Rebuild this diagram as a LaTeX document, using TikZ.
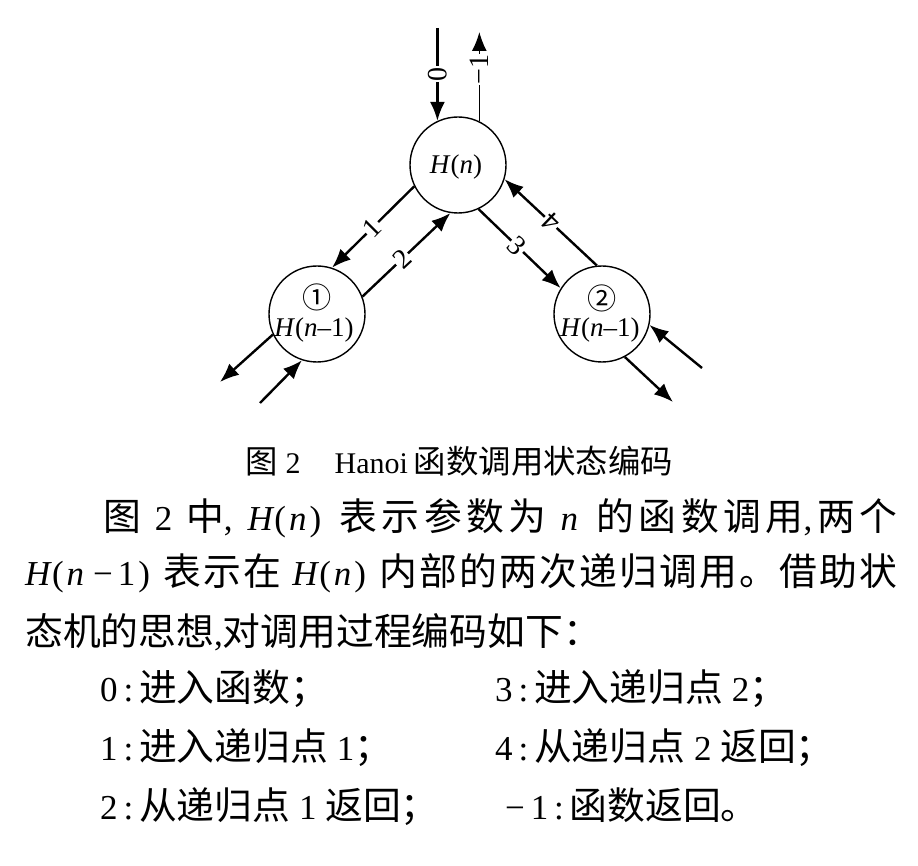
\documentclass[tikz,border=0pt]{standalone}
\usepackage{fontspec}
\setmainfont{Liberation Serif}
\newfontfamily\cjk[Scale=1.08]{Noto Sans CJK SC}
\usetikzlibrary{arrows.meta}
\newcommand\zh[1]{{\cjk #1}}
% CJK run with a little stretchable glue before every character
\makeatletter
\def\zs@aux#1{\ifx#1\relax\else\hskip0pt plus 4pt #1\expandafter\zs@aux\fi}
\newcommand\zs[1]{{\cjk\zs@aux#1\relax}}
\makeatother
\newcommand\Hn{\textit{H}(\hspace{3pt}\textit{n}\hspace{3pt})}
\begin{document}
\begin{tikzpicture}[x=1pt,y=-1pt,
  call/.style={circle,draw,line width=1.4pt,minimum size=96pt,inner sep=0pt},
  arr/.style={line width=2.4pt,-{Latex[length=19pt,width=15pt]}},
  num/.style={fill=white,inner sep=1pt,font=\fontsize{28}{28}\selectfont},
  intext/.style={inner sep=0pt,font=\fontsize{27}{27}\selectfont},
  capt/.style={anchor=base west,inner sep=0pt,font=\fontsize{30}{36}\selectfont},
  body/.style={anchor=base west,inner sep=0pt,font=\fontsize{35}{40}\selectfont},
]
\useasboundingbox (0,0) rectangle (918,866);

% the three calls
\node[call] (H) at (458,165) {};
\node[call] (L) at (317,314) {};
\node[call] (R) at (602,314) {};

\node[intext] (Ht) at (456,167) {\textit{H}(\textit{n})};
\node[intext] (Lm) at (317,297) {\zh{①}};
\node[intext] (Lt) at (314,330) {\textit{H}(\textit{n}–1)};
\node[intext] (Rm) at (602,298) {\zh{②}};
\node[intext] (Rt) at (600,330) {\textit{H}(\textit{n}–1)};

% free ends of the outer connectors
\coordinate (in0) at (437,28);
\coordinate (out1) at (480,32);
\coordinate (Lout) at (220,382);
\coordinate (Lin) at (260,403);
\coordinate (Rin) at (702,368);
\coordinate (Rout) at (673,402);

% entry and return of H(n)
\draw[arr] (H.115 |- in0) -- node[num,rotate=-90,pos=0.5]{0} (H.115);
\draw[arr,line width=1.6pt] (H.64) -- node[num,rotate=90,pos=0.58]{−1} (H.64 |- out1);

% recursion point 1
\draw[arr] (H.206.6) -- node[num,rotate=45,pos=0.51]{1} (L.72);
\draw[arr] (L.21.6) -- node[num,rotate=43,pos=0.45]{2} (H.261);

% recursion point 2
\draw[arr] (H.295) -- node[num,rotate=-44,pos=0.47]{3} (R.148);
\draw[arr] (R.96) -- node[num,rotate=136,pos=0.5]{4} (H.343);

% connectors of the inner calls
\draw[arr] (L.205) -- (Lout);
\draw[arr] (Lin) -- (L.252);
\draw[arr] (Rin) -- (R.347);
\draw[arr] (R.298) -- (Rout);

% caption
\node[capt] (cap) at (245,473) {\zh{图}\hspace{8pt}2\hspace{34pt}Hanoi\hspace{6pt}\zh{函数调用状态编码}};

% body text
\node[body] (p1) at (103,530) {\makebox[794pt][s]{\zh{图} 2 \zh{中}, \Hn{} \zs{表示参数为} \textit{n} \zs{的函数调用},\zs{两个}}};
\node[body] (p2) at (25,585) {\makebox[872pt][s]{\textit{H}(\hspace{3pt}\textit{n}\hspace{9pt}−\hspace{5pt}1\hspace{3pt}) \zs{表示在} \Hn{} \zs{内部的两次递归调用。借助状}}};
\node[body] (p3) at (25,645) {\zh{态机的思想},\zh{对调用过程编码如下：}};

% coding list
\node[body] (c0) at (100,701) {0\,:\,\zh{进入函数；}};
\node[body] (c1) at (100,760) {1\,:\,\zh{进入递归点} 1\zh{；}};
\node[body] (c2) at (100,819) {2\,:\,\zh{从递归点} 1 \zh{返回；}};
\node[body] (c3) at (495,701) {3\,:\,\zh{进入递归点} 2\zh{；}};
\node[body] (c4) at (495,760) {4\,:\,\zh{从递归点} 2 \zh{返回；}};
\node[body] (c5) at (505,819) {−\,1\,:\,\zh{函数返回。}};
\end{tikzpicture}
\end{document}
